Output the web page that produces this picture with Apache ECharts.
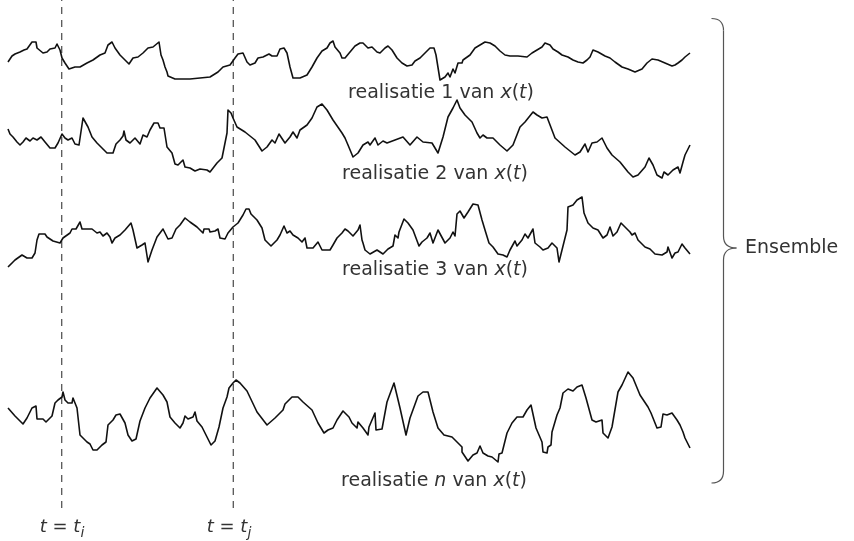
<!DOCTYPE html>
<html>
<head>
<meta charset="utf-8">
<script src="https://cdn.jsdelivr.net/npm/echarts/dist/echarts.min.js"></script>
<style>
  html, body { margin: 0; padding: 0; background: #ffffff; }
  #chart { width: 854px; height: 541px; }
</style>
</head>
<body>
<div id="chart"></div>
<script>
// Time axis shared by all realisations
const timeMin = 0;
const timeMax = 682;

// Observation instants t_i and t_j
const tI = 53.7;
const tJ = 225.3;

// Realisation 1 of x(t): [t, x]
const realisatie1 = [[0,-2],[4,4],[7,6],[12,8],[16,10],[19,11],[20,13],[24,18],[28,18],[29,12],[35,7],[39,8],[42,11],[47,12],[49,16],[52,10],[54,2],[57,-3],[61,-9],[67,-7],[72,-7],[79,-3],[85,0],[92,5],[97,7],[100,15],[104,18],[107,12],[112,5],[117,0],[121,-4],[125,2],[130,3],[135,7],[140,12],[145,13],[151,18],[153,5],[155,0],[157,-7],[159,-12],[160,-16],[167,-19],[182,-19],[192,-18],[202,-17],[210,-12],[215,-7],[222,-5],[227,2],[230,6],[235,7],[239,-2],[242,-5],[247,-3],[250,2],[255,3],[261,6],[263,8],[264,4],[269,4],[272,11],[276,12],[279,7],[282,-7],[285,-18],[292,-18],[299,-15],[304,-7],[309,2],[314,9],[319,12],[322,17],[325,19],[327,13],[332,7],[334,2],[337,2],[342,8],[347,14],[352,17],[355,17],[360,12],[364,13],[369,8],[372,7],[377,12],[380,14],[384,10],[389,2],[394,-3],[399,-6],[404,-5],[407,-1],[412,2],[417,7],[422,12],[426,12],[428,5],[432,-20],[437,-17],[440,-13],[442,-17],[445,-9],[447,-13],[450,-3],[454,-3],[455,0],[462,5],[467,12],[472,15],[477,18],[482,17],[487,14],[492,9],[497,5],[502,4],[510,4],[512,6],[519,3],[524,7],[529,10],[534,13],[537,17],[542,15],[545,11],[550,8],[554,5],[560,3],[565,0],[570,-2],[575,-3],[579,0],[582,3],[585,10],[590,8],[597,4],[602,2],[607,-2],[614,-7],[620,-9],[627,-12],[634,-9],[639,-3],[644,1],[650,0],[657,-3],[664,-6],[667,-5],[670,-3],[674,0],[677,3],[682,7]];

// Realisation 2 of x(t)
const realisatie2 = [[0,11],[2,6],[5,3],[9,-2],[12,-5],[15,-2],[18,2],[22,-1],[25,2],[29,0],[33,3],[37,-2],[42,-8],[47,-8],[50,-3],[54,6],[57,2],[60,0],[64,2],[67,-4],[71,-5],[75,22],[77,22],[80,13],[84,3],[89,-3],[94,-8],[99,-13],[105,-13],[108,-4],[112,0],[115,4],[116,9],[118,0],[122,-3],[127,2],[132,-4],[135,5],[139,3],[142,10],[146,17],[150,17],[152,12],[156,12],[159,-7],[164,-13],[167,-24],[170,-25],[175,-20],[177,-27],[182,-28],[187,-31],[192,-29],[199,-30],[202,-32],[209,-23],[214,-18],[217,-3],[219,7],[220,30],[223,27],[225,22],[229,13],[237,8],[247,0],[254,-11],[259,-7],[264,0],[267,-3],[271,6],[277,-3],[282,3],[285,8],[289,2],[292,10],[299,15],[304,22],[309,33],[314,36],[319,30],[325,20],[334,7],[337,2],[340,-5],[345,-17],[350,-13],[355,-5],[360,-2],[362,-5],[367,2],[370,-5],[375,-1],[379,-3],[387,0],[395,3],[402,-5],[409,3],[415,-2],[424,-3],[430,-13],[435,3],[440,23],[445,32],[449,40],[452,32],[457,25],[464,18],[469,7],[472,2],[475,5],[479,2],[485,2],[492,-5],[499,-11],[505,-5],[512,13],[517,18],[525,28],[529,25],[534,22],[539,23],[540,22],[547,2],[557,-7],[567,-15],[572,-12],[577,-4],[580,-12],[584,-3],[589,-2],[594,2],[599,-8],[604,-15],[612,-22],[620,-32],[625,-37],[630,-35],[637,-27],[641,-18],[645,-25],[649,-35],[654,-38],[656,-32],[660,-35],[665,-30],[670,-27],[672,-33],[675,-22],[677,-15],[682,-5]];

// Realisation 3 of x(t)
const realisatie3 = [[0,-27],[7,-20],[14,-15],[19,-18],[24,-18],[27,-13],[29,0],[31,6],[37,6],[39,3],[45,-1],[47,-3],[52,-3],[55,2],[62,7],[64,11],[68,11],[72,18],[74,11],[84,11],[89,7],[92,8],[95,4],[99,7],[102,3],[104,-3],[107,2],[112,5],[117,10],[123,17],[125,10],[129,-8],[134,-5],[137,-3],[140,-22],[144,-10],[149,3],[155,11],[160,1],[164,2],[168,11],[172,15],[177,22],[182,18],[189,13],[195,7],[196,11],[201,11],[202,8],[207,9],[210,11],[212,2],[217,1],[220,7],[225,13],[230,17],[235,25],[238,31],[241,31],[243,26],[249,20],[254,12],[257,0],[263,-6],[269,0],[272,5],[276,14],[279,7],[282,9],[285,5],[290,2],[294,-2],[297,2],[299,-8],[305,-8],[310,-2],[314,-10],[322,-10],[325,-5],[329,2],[334,7],[337,11],[340,9],[345,4],[350,10],[352,15],[354,0],[355,-3],[357,-10],[362,-14],[369,-10],[375,-14],[380,-9],[385,-6],[387,5],[390,2],[391,8],[396,21],[400,17],[405,10],[411,-6],[414,-2],[419,2],[422,7],[425,-3],[430,10],[437,-3],[442,2],[445,8],[447,4],[449,26],[452,29],[456,22],[460,28],[465,36],[470,35],[474,20],[477,10],[481,-3],[485,-7],[490,-14],[495,-15],[499,-17],[502,-10],[507,-1],[509,-6],[514,0],[517,6],[520,2],[525,11],[527,-3],[532,-7],[535,-10],[540,-8],[544,-3],[549,-8],[551,-22],[553,-22],[559,10],[560,33],[565,35],[569,40],[574,43],[576,27],[580,17],[585,12],[590,10],[595,2],[599,5],[602,13],[605,4],[609,8],[613,17],[617,13],[622,8],[624,5],[627,7],[630,0],[637,-7],[642,-9],[647,-14],[654,-15],[659,-12],[660,-7],[664,-18],[667,-13],[670,-12],[674,-4],[677,-8],[682,-14]];

// Realisation n of x(t)
const realisatieN = [[0,7],[7,-1],[15,-9],[19,-3],[22,3],[24,7],[28,9],[29,-4],[35,-4],[38,-7],[44,-1],[47,12],[50,15],[54,18],[55,23],[57,15],[60,12],[64,12],[65,17],[69,7],[72,-20],[79,-27],[82,-29],[85,-35],[89,-35],[94,-30],[98,-27],[100,-10],[105,-5],[108,0],[112,1],[117,-8],[120,-20],[124,-26],[128,-24],[132,-6],[137,7],[142,17],[149,27],[151,27],[155,20],[159,13],[162,-2],[167,-8],[172,-13],[175,-8],[177,-1],[180,-4],[185,-2],[187,3],[189,-6],[194,-12],[199,-22],[203,-30],[207,-26],[211,-12],[215,7],[219,18],[221,27],[225,32],[228,35],[232,32],[239,24],[249,3],[259,-10],[267,-3],[275,5],[277,11],[284,18],[290,18],[295,13],[304,5],[310,-8],[316,-18],[320,-15],[325,-13],[329,-5],[335,4],[341,-2],[344,-8],[349,-13],[350,-7],[355,-13],[360,-20],[361,-12],[367,2],[368,-15],[370,-17],[374,-14],[379,13],[386,32],[392,7],[398,-20],[402,-3],[410,19],[415,23],[420,23],[425,3],[430,-13],[436,-20],[444,-22],[449,-27],[454,-32],[454,-37],[460,-46],[465,-40],[469,-38],[472,-31],[475,-38],[480,-41],[484,-42],[490,-47],[491,-39],[494,-38],[495,-40],[499,-18],[504,-8],[509,-2],[511,-4],[515,-2],[519,5],[523,10],[528,-13],[534,-27],[535,-37],[539,-38],[540,-32],[543,-30],[544,-17],[549,0],[552,7],[555,22],[560,26],[565,24],[569,28],[574,30],[578,17],[584,-5],[588,-7],[594,-5],[595,-18],[600,-23],[604,-12],[610,23],[614,30],[620,43],[625,37],[632,20],[640,8],[643,2],[649,-13],[653,-12],[655,1],[659,0],[664,2],[669,-5],[672,-10],[675,-17],[677,-23],[682,-33]];

const realisaties = [realisatie1, realisatie2, realisatie3, realisatieN];
const labelIds = ['1', '2', '3', 'n'];

// Vertical layout: centre line of each strip (px)
const stripCentres = [60, 140, 240, 415];
const stripHalf = 50;
const plotLeft = 8;
const plotWidth = 682;

const textColor = '#333333';
const lineColor = '#111111';
const braceColor = '#555555';
const fontFamily = "'DejaVu Sans', sans-serif";

const chart = echarts.init(document.getElementById('chart'), null, { renderer: 'canvas' });

const grids = [];
const xAxes = [];
const yAxes = [];
const series = [];

realisaties.forEach((data, k) => {
  grids.push({ left: plotLeft, width: plotWidth, top: stripCentres[k] - stripHalf, height: 2 * stripHalf });
  xAxes.push({ type: 'value', gridIndex: k, min: timeMin, max: timeMax, show: false });
  yAxes.push({ type: 'value', gridIndex: k, min: -stripHalf, max: stripHalf, show: false });
  series.push({
    type: 'line', xAxisIndex: k, yAxisIndex: k, data: data,
    symbol: 'none', silent: true, clip: false,
    lineStyle: { color: lineColor, width: 1.6, join: 'round' }
  });
});

// Full-height strip carrying the dashed time markers
const markerGrid = grids.length;
grids.push({ left: plotLeft, width: plotWidth, top: 0, height: 508 });
xAxes.push({ type: 'value', gridIndex: markerGrid, min: timeMin, max: timeMax, show: false });
yAxes.push({ type: 'value', gridIndex: markerGrid, min: 0, max: 1, show: false });
[tI, tJ].forEach(t => {
  series.push({
    type: 'line', xAxisIndex: markerGrid, yAxisIndex: markerGrid,
    data: [[t, 0], [t, 1]], symbol: 'none', silent: true, z: 1,
    lineStyle: { color: '#555555', width: 1.3, type: [7, 6] }
  });
});

function richStyles(size) {
  return {
    n: { fontSize: size, fontFamily: fontFamily, fill: textColor, color: textColor },
    i: { fontSize: size, fontFamily: fontFamily, fontStyle: 'italic', fill: textColor, color: textColor }
  };
}

const labelPos = [[441, 93], [435, 174], [435, 270], [434, 481]];
const graphic = labelIds.map((id, k) => ({
  type: 'text', silent: true,
  style: {
    x: labelPos[k][0], y: labelPos[k][1],
    text: id === 'n'
      ? '{n|realisatie }{i|n}{n| van }{i|x}{n|(}{i|t}{n|)}'
      : '{n|realisatie ' + id + ' van }{i|x}{n|(}{i|t}{n|)}',
    rich: richStyles(19),
    align: 'center', verticalAlign: 'middle',
    textAlign: 'center', textVerticalAlign: 'middle'
  }
}));

// t = t_i and t = t_j below the markers
function instantLabel(x, sub) {
  return {
    type: 'text', silent: true,
    style: {
      x: x, y: 527,
      text: '{i|t}{n| = }{i|t}{s|' + sub + '}',
      rich: {
        n: { fontSize: 18, lineHeight: 26, fontFamily: fontFamily, fill: textColor, color: textColor },
        i: { fontSize: 18, lineHeight: 26, fontFamily: fontFamily, fontStyle: 'italic', fill: textColor, color: textColor },
        s: { fontSize: 14, fontFamily: fontFamily, fontStyle: 'italic', fill: textColor, color: textColor, verticalAlign: 'bottom' }
      },
      align: 'center', verticalAlign: 'middle',
      textAlign: 'center', textVerticalAlign: 'middle'
    }
  };
}
graphic.push(instantLabel(62, 'i'));
graphic.push(instantLabel(229, 'j'));

// Curly brace grouping the realisations: straight runs joined by quadratic curves
const braceX = 723.5, braceEndX = 711.5, braceTipX = 736.5;
const braceTop = 18.5, braceMid = 248, braceBottom = 483, braceR = 12;
const braceStroke = { stroke: braceColor, lineWidth: 1.2, fill: null };
[
  { x1: braceEndX, y1: braceTop, cpx1: braceX, cpy1: braceTop, x2: braceX, y2: braceTop + braceR },
  { x1: braceX, y1: braceMid - braceR, cpx1: braceX, cpy1: braceMid, x2: braceTipX, y2: braceMid },
  { x1: braceTipX, y1: braceMid, cpx1: braceX, cpy1: braceMid, x2: braceX, y2: braceMid + braceR },
  { x1: braceX, y1: braceBottom - braceR, cpx1: braceX, cpy1: braceBottom, x2: braceEndX, y2: braceBottom }
].forEach(shape => graphic.push({ type: 'bezierCurve', silent: true, shape: shape, style: braceStroke }));
[
  { x1: braceX, y1: braceTop + braceR, x2: braceX, y2: braceMid - braceR },
  { x1: braceX, y1: braceMid + braceR, x2: braceX, y2: braceBottom - braceR }
].forEach(shape => graphic.push({ type: 'line', silent: true, shape: shape, style: braceStroke }));

graphic.push({
  type: 'text', silent: true,
  style: {
    x: 745, y: 248, text: 'Ensemble',
    font: "19px 'DejaVu Sans', sans-serif", fill: textColor,
    align: 'left', verticalAlign: 'middle',
    textAlign: 'left', textVerticalAlign: 'middle'
  }
});

chart.setOption({
  animation: false,
  backgroundColor: '#ffffff',
  grid: grids,
  xAxis: xAxes,
  yAxis: yAxes,
  series: series,
  graphic: graphic
});
</script>
</body>
</html>
